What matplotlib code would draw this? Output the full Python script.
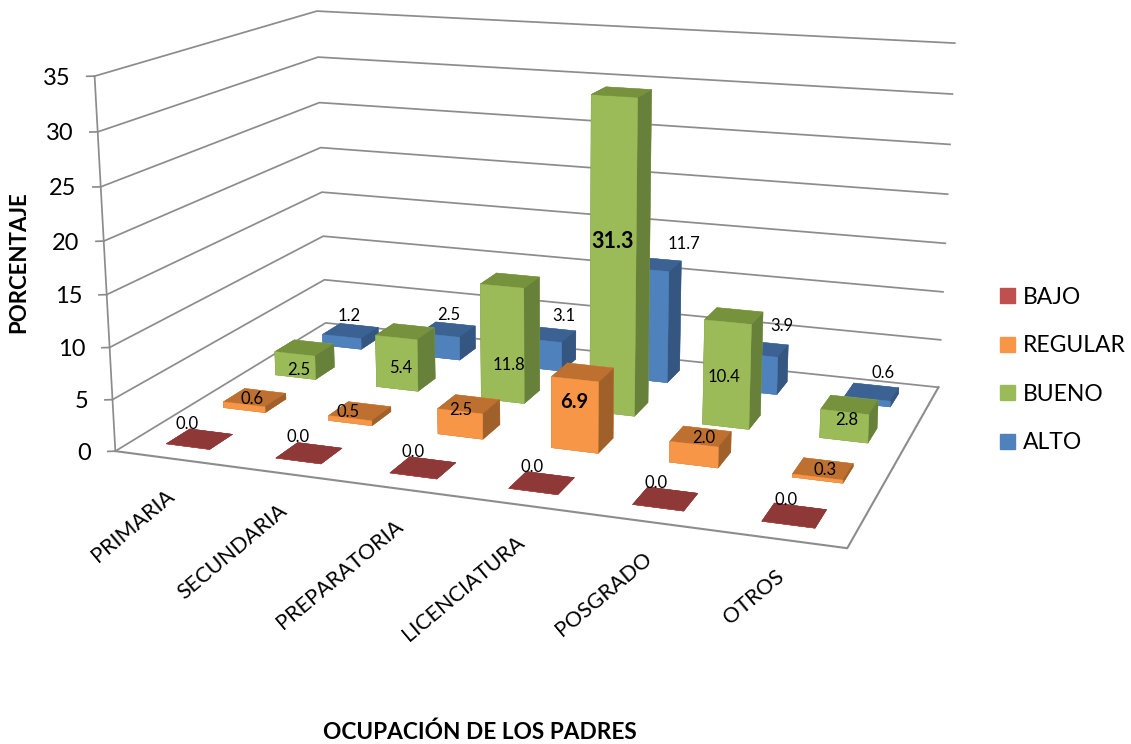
import matplotlib
matplotlib.use('Agg')
import matplotlib.pyplot as plt
from matplotlib.patches import Patch
from mpl_toolkits.mplot3d import proj3d

plt.rcParams['font.family'] = ['Lato', 'DejaVu Sans']

ocupacion = ['PRIMARIA', 'SECUNDARIA', 'PREPARATORIA', 'LICENCIATURA', 'POSGRADO', 'OTROS']
niveles = ['BAJO', 'REGULAR', 'BUENO', 'ALTO']
bajo = [0.0, 0.0, 0.0, 0.0, 0.0, 0.0]
regular = [0.6, 0.5, 2.5, 6.9, 2.0, 0.3]
bueno = [2.5, 5.4, 11.8, 31.3, 10.4, 2.8]
alto = [1.2, 2.5, 3.1, 11.7, 3.9, 0.6]
series = [bajo, regular, bueno, alto]
ticks_y = [0, 5, 10, 15, 20, 25, 30, 35]

# frente, tapa, lado
colores = [('#C0504D', '#8E3838', '#8E3838'),
           ('#F79646', '#BE7030', '#A0602A'),
           ('#9BBB59', '#76923C', '#67803A'),
           ('#4F81BD', '#3B6292', '#345680')]
ancho = 0.4
gris = '#8C8C8C'

# desplazamiento de cada etiqueta de datos, en pixeles
off_bajo = [(-13, 15), (-11, 16), (-10, 16), (-10, 16), (-9, 16), (-8, 15)]
off_regular = [(-3, 1), (-12, 2), (-8, 7), (-8, 6), (3, 9), (2, 0)]
off_bueno = [(-6, -11), (-5, -11), (-1, -27), (-8, 11), (-9, -9), (-2, -1)]
off_alto = [(-1, 15), (1, 15), (16, 19), (30, 20), (21, 23), (11, 19)]

fig = plt.figure(figsize=(11.31, 7.44), dpi=100)
# la caja 3d se ajusto a las esquinas del grafico original
ax = fig.add_axes([77.46 / 1131, 34.12 / 744, 910.65 / 1131, 910.65 / 744], projection='3d',
                  computed_zorder=False)
ax.set_xlim(0, 6)
ax.set_ylim(0, 4)
ax.set_zlim(0, 35)
ax.view_init(14.1907, -70.0793, 0.0786)
ax.set_proj_type('persp', focal_length=0.4203)
ax.set_box_aspect((1, 0.6499, 0.512))
ax.set_axis_off()
M = ax.get_proj()


def etiqueta(x, y, z, texto, dx=0, dy=0, **kw):
    X, Y, _ = proj3d.proj_transform(x, y, z, M)
    ax.annotate(texto, (X, Y), xytext=(dx, dy), textcoords='offset pixels', annotation_clip=False, **kw)


# paredes
for t in ticks_y:
    ax.plot([0, 0, 6], [0, 4, 4], [t, t, t], color=gris, lw=1.25, zorder=1)
    ax.plot([0, -0.054], [0, -0.027], [t, t], color=gris, lw=1.25, zorder=1)
    etiqueta(0, 0, t, str(t), -24, -2, ha='right', va='center', fontsize=17, color='black', zorder=50)
ax.plot([0, 0], [0, 0], [0, 35], color=gris, lw=1.25, zorder=1)
ax.plot([0, 6, 6], [0, 0, 4], [0, 0, 0], color=gris, lw=1.5, zorder=1)

# barras de atras hacia adelante
orden = 2
for s in range(3, -1, -1):
    frente, tapa, lado = colores[s]
    caras = [tapa, tapa, frente, frente, lado, lado]
    for c in range(6):
        ax.bar3d(c + 0.5 - ancho / 2, s + 0.5 - ancho / 2, 0, ancho, ancho, series[s][c],
                 color=caras, edgecolor=caras, linewidth=0.3, shade=False, zorder=orden)
        orden += 1

# etiquetas de datos
for c in range(6):
    etiqueta(c + 0.5, 0.5, 0, '%.1f' % bajo[c], *off_bajo[c], ha='center', va='center', fontsize=12, zorder=50)
    etiqueta(c + 0.5, 1.5, regular[c] / 2, '%.1f' % regular[c], *off_regular[c], ha='center', va='center',
             fontsize=14.5 if regular[c] == max(regular) else 12,
             fontweight='bold' if regular[c] == max(regular) else 'normal', zorder=50)
    etiqueta(c + 0.5, 2.5, bueno[c] / 2, '%.1f' % bueno[c], *off_bueno[c], ha='center', va='center',
             fontsize=15.5 if bueno[c] == max(bueno) else 12,
             fontweight='bold' if bueno[c] == max(bueno) else 'normal', zorder=50)
    etiqueta(c + 0.5, 3.5, alto[c], '%.1f' % alto[c], *off_alto[c], ha='center', va='center', fontsize=12, zorder=50)
    etiqueta(c + 0.5, 0, 0, ocupacion[c], -4, -27, ha='right', va='top', rotation=40,
             rotation_mode='anchor', fontsize=15.5, zorder=50)

fig.text(19 / 1131, 1 - 262 / 744, 'PORCENTAJE', rotation=90, ha='center', va='center',
         fontsize=16, fontweight='bold')
fig.text(480 / 1131, 1 - 732 / 744, 'OCUPACIÓN DE LOS PADRES', ha='center', va='center',
         fontsize=16.3, fontweight='bold')

fig.legend(handles=[Patch(color=colores[i][0], label=niveles[i]) for i in range(4)],
           loc='center left', bbox_to_anchor=(1000 / 1131, 1 - 370 / 744), frameon=False, fontsize=16.5,
           handlelength=0.65, handleheight=0.65, handletextpad=0.35, labelspacing=1.2,
           borderpad=0, borderaxespad=0)

fig.savefig('out.png', dpi=100)
